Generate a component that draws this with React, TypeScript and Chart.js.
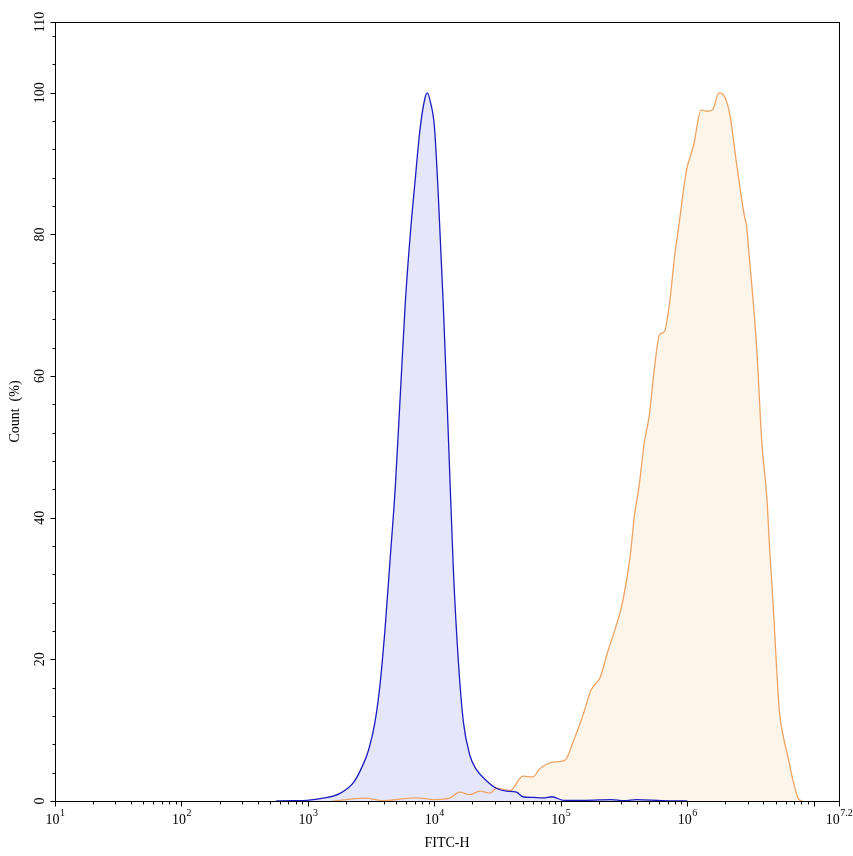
import React, { useEffect, useRef } from 'react';
import { Chart, registerables } from 'chart.js';

Chart.register(...registerables);

// x positions are stored as log10(FITC-H), y as Count (%)
const blueExp = [2.75, 2.88, 2.99, 3.12, 3.25, 3.36, 3.42, 3.48, 3.53, 3.57, 3.61, 3.65, 3.69, 3.73, 3.77, 3.81, 3.85, 3.885, 3.925, 3.945, 3.97, 4.0, 4.03, 4.07, 4.11, 4.15, 4.19, 4.23, 4.28, 4.33, 4.41, 4.49, 4.57, 4.65, 4.7, 4.78, 4.86, 4.93, 5.02, 5.2, 5.4, 5.5, 5.6, 5.8, 6.0];
const blueCount = [0, 0.05, 0.1, 0.4, 1.05, 2.6, 4.5, 7.2, 11.1, 16.4, 24.3, 34.1, 44, 57.1, 70.3, 80.1, 88, 94.6, 99.2, 100, 98.6, 95.3, 86, 70.3, 51.9, 32.8, 19.7, 11.1, 6.5, 4.5, 2.9, 1.8, 1.4, 1.25, 0.6, 0.5, 0.45, 0.6, 0.1, 0.1, 0.2, 0.05, 0.2, 0.05, 0];

const orangeExp = [3.2, 3.45, 3.6, 3.86, 4.0, 4.12, 4.2, 4.28, 4.36, 4.44, 4.49, 4.6, 4.7, 4.78, 4.83, 4.94, 5.03, 5.1, 5.18, 5.24, 5.31, 5.37, 5.44, 5.49, 5.55, 5.58, 5.62, 5.66, 5.7, 5.74, 5.78, 5.82, 5.86, 5.9, 5.94, 5.99, 6.05, 6.11, 6.15, 6.2, 6.25, 6.3, 6.34, 6.39, 6.45, 6.47, 6.49, 6.52, 6.55, 6.59, 6.63, 6.65, 6.68, 6.71, 6.73, 6.76, 6.8, 6.84, 6.88, 6.91];
const orangeCount = [0, 0.4, 0.05, 0.45, 0.2, 0.4, 1.25, 0.9, 1.4, 1.1, 1.8, 1.5, 3.5, 3.4, 4.5, 5.5, 5.7, 8.5, 12.4, 15.7, 17.4, 21, 24.9, 28.2, 34.8, 40, 44.6, 50.6, 54.5, 61.1, 65.8, 66.3, 70.3, 76.9, 82.1, 88.7, 92.6, 97.6, 97.4, 97.6, 100, 99.3, 96.6, 90, 82.8, 81.1, 76.9, 70.9, 63.7, 50.6, 42.7, 36.1, 27.5, 17.7, 12.4, 9.1, 5.9, 2.6, 0.3, 0];

const xMajorExp = [1, 2, 3, 4, 5, 6, 7, 7.2];
const xMajorLabels = ['1', '2', '3', '4', '5', '6', '', '7.2'];
const xMinorMult = [2, 3, 4, 5, 6, 7, 8, 9];
const yMajorTicks = [0, 20, 40, 60, 80, 100, 110];
const yMinorTicks = [4, 8, 12, 16, 24, 28, 32, 36, 44, 48, 52, 56, 64, 68, 72, 76, 84, 88, 92, 96, 104, 108];

const FONT = "'Liberation Serif', 'Times New Roman', serif";

const axesPlugin = {
    id: 'flowAxes',
    afterDraw(chart: any) {
        const ctx = chart.ctx;
        const area = chart.chartArea;
        const xs = chart.scales.x;
        const ys = chart.scales.y;
        ctx.save();
        ctx.strokeStyle = '#000';
        ctx.lineWidth = 1;
        ctx.strokeRect(Math.round(area.left) + 0.5, Math.round(area.top) + 0.5,
            Math.round(area.right - area.left), Math.round(area.bottom - area.top));

        const bottom = Math.round(area.bottom) + 0.5;
        const left = Math.round(area.left) + 0.5;

        ctx.beginPath();
        xMajorExp.forEach((e) => {
            const px = Math.round(xs.getPixelForValue(Math.pow(10, e))) + 0.5;
            ctx.moveTo(px, bottom);
            ctx.lineTo(px, bottom + 5);
        });
        for (let k = 1; k <= 7; k++) {
            xMinorMult.forEach((m) => {
                const v = m * Math.pow(10, k);
                if (v >= xs.max) return;
                const px = Math.round(xs.getPixelForValue(v)) + 0.5;
                ctx.moveTo(px, bottom);
                ctx.lineTo(px, bottom + 3);
            });
        }
        yMajorTicks.forEach((t) => {
            const py = Math.round(ys.getPixelForValue(t)) + 0.5;
            ctx.moveTo(left, py);
            ctx.lineTo(left - 5, py);
        });
        yMinorTicks.forEach((t) => {
            const py = Math.round(ys.getPixelForValue(t)) + 0.5;
            ctx.moveTo(left, py);
            ctx.lineTo(left - 3, py);
        });
        ctx.stroke();

        // x tick labels: 10 with superscript exponent
        ctx.fillStyle = '#000';
        ctx.textBaseline = 'alphabetic';
        ctx.textAlign = 'left';
        xMajorExp.forEach((e, i) => {
            if (!xMajorLabels[i]) return;
            const px = xs.getPixelForValue(Math.pow(10, e));
            ctx.font = `14px ${FONT}`;
            const wBase = ctx.measureText('10').width;
            ctx.font = `10px ${FONT}`;
            const wSup = ctx.measureText(xMajorLabels[i]).width;
            const start = px - (wBase + wSup) / 2;
            ctx.font = `14px ${FONT}`;
            ctx.fillText('10', start, area.bottom + 23);
            ctx.font = `10px ${FONT}`;
            ctx.fillText(xMajorLabels[i], start + wBase + 0.5, area.bottom + 15);
        });

        // y tick labels, rotated
        ctx.font = `14px ${FONT}`;
        ctx.textAlign = 'center';
        ctx.textBaseline = 'middle';
        yMajorTicks.forEach((t) => {
            const py = ys.getPixelForValue(t);
            ctx.save();
            ctx.translate(40, py);
            ctx.rotate(-Math.PI / 2);
            ctx.fillText(String(t), 0, 0);
            ctx.restore();
        });

        // axis titles
        ctx.textBaseline = 'alphabetic';
        ctx.fillText('FITC-H', (area.left + area.right) / 2, area.bottom + 46);
        ctx.save();
        ctx.translate(19, (area.top + area.bottom) / 2);
        ctx.rotate(-Math.PI / 2);
        ctx.fillText('Count  (%)', 0, 0);
        ctx.restore();
        ctx.restore();
    },
};

const App: React.FC = () => {
    const chartRef = useRef<HTMLCanvasElement>(null);
    const chartInstance = useRef<Chart | null>(null);

    useEffect(() => {
        document.body.style.margin = '0';
        if (!chartRef.current) return;
        const ctx = chartRef.current.getContext('2d');
        if (!ctx) return;
        if (chartInstance.current) chartInstance.current.destroy();

        chartInstance.current = new Chart(ctx, {
            type: 'line',
            data: {
                datasets: [
                    {
                        label: 'Control',
                        data: blueExp.map((e, i) => ({ x: Math.pow(10, e), y: blueCount[i] })),
                        borderColor: '#1c1cc0',
                        backgroundColor: 'rgba(230, 230, 250, 1)',
                        borderWidth: 1.3,
                        fill: 'origin',
                        pointRadius: 0,
                        cubicInterpolationMode: 'monotone',
                    },
                    {
                        label: 'Sample',
                        data: orangeExp.map((e, i) => ({ x: Math.pow(10, e), y: orangeCount[i] })),
                        borderColor: '#eea464',
                        backgroundColor: 'rgba(253, 244, 234, 1)',
                        borderWidth: 1.3,
                        fill: 'origin',
                        pointRadius: 0,
                        cubicInterpolationMode: 'monotone',
                    },
                ],
            },
            options: {
                responsive: true,
                maintainAspectRatio: false,
                animation: false,
                layout: { padding: { left: 55, top: 22, right: 14, bottom: 55 } },
                scales: {
                    x: { type: 'logarithmic', min: 10, max: Math.pow(10, 7.2), display: false },
                    y: { type: 'linear', min: 0, max: 110, display: false },
                },
                plugins: {
                    legend: { display: false },
                    tooltip: { enabled: false },
                    filler: { drawTime: 'beforeDatasetsDraw' },
                },
            },
            plugins: [axesPlugin],
        });

        return () => {
            if (chartInstance.current) {
                chartInstance.current.destroy();
                chartInstance.current = null;
            }
        };
    }, []);

    return (
        <div style={{ position: 'relative', width: 853, height: 856, background: '#fff' }}>
            <canvas ref={chartRef}></canvas>
        </div>
    );
};

export default App;
